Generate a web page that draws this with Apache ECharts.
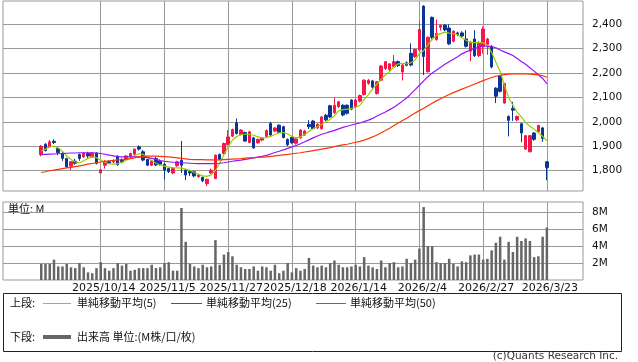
<!DOCTYPE html>
<html><head><meta charset="utf-8">
<script src="https://cdn.jsdelivr.net/npm/echarts@6/dist/echarts.min.js"></script>
<style>html,body{margin:0;padding:0;background:#fff}#c{width:638px;height:362px}</style>
</head><body><div id="c"></div>
<script>
const opens = [1865,1908,1897,1920,1890,1870,1849,1818,1838,1866,
1856,1870,1856,1872,1790,1822,1836,1835,1859,1845,
1845,1858,1867,1897,1877,1845,1822,1849,1838,1826,
1808,1790,1820,1842,1802,1796,1795,1775,1772,1746,
1790,1767,1866,1870,1907,1941,1996,1948,1956,1915,
1934,1914,1925,1940,1993,1962,1986,1980,1927,1936,
1912,1934,1946,1989,2003,1975,1972,2027,2066,2037,
2062,2068,2068,2089,2062,2085,2112,2158,2168,2116,
2171,2219,2215,2226,2247,2205,2242,2281,2268,2295,
2475,2206,2429,2338,2388,2397,2385,2331,2365,2365,
2340,2290,2340,2272,2310,2317,2310,2138,2187,2077,
2022,2055,2008,1992,1888,1877,1954,1959,1975,1836];
const closes = [1900,1882,1918,1915,1874,1850,1815,1836,1830,1850,
1872,1860,1872,1830,1803,1838,1830,1838,1824,1836,
1860,1870,1888,1888,1843,1822,1840,1823,1826,1802,
1796,1808,1836,1822,1782,1790,1778,1782,1758,1764,
1801,1863,1846,1911,1938,1968,1952,1966,1921,1959,
1893,1928,1933,1964,1946,1975,1957,1936,1906,1914,
1930,1966,1962,1980,1972,1990,2020,2008,2020,2068,
2082,2028,2035,2052,2090,2108,2171,2170,2142,2164,
2229,2247,2238,2247,2231,2233,2232,2233,2297,2379,
2268,2347,2347,2363,2396,2377,2320,2372,2358,2352,
2310,2327,2272,2325,2381,2340,2225,2105,2125,2157,
2006,2048,2022,1954,1943,1943,1928,1985,1932,1812];
const lows = [1858,1878,1894,1909,1863,1840,1812,1802,1824,1840,
1852,1852,1852,1825,1788,1808,1826,1830,1820,1830,
1840,1852,1862,1882,1838,1818,1818,1818,1820,1764,
1790,1785,1815,1790,1760,1778,1772,1770,1752,1736,
1786,1765,1842,1866,1903,1938,1948,1944,1918,1912,
1890,1910,1920,1936,1942,1958,1952,1932,1900,1910,
1906,1930,1942,1970,1968,1970,1968,2003,2016,2033,
2057,2023,2030,2048,2058,2080,2108,2152,2135,2112,
2166,2213,2208,2222,2225,2170,2228,2228,2262,2290,
2192,2202,2340,2333,2375,2372,2315,2326,2352,2348,
2305,2248,2266,2266,2280,2275,2220,2077,2120,2075,
1940,2004,2002,1916,1885,1875,1922,1955,1918,1760];
const highs = [1905,1912,1925,1928,1897,1880,1852,1838,1848,1870,
1875,1877,1876,1875,1805,1842,1842,1845,1862,1850,
1862,1873,1890,1903,1884,1848,1843,1856,1845,1830,
1812,1812,1840,1921,1806,1803,1800,1785,1775,1766,
1808,1866,1870,1915,1966,1972,2014,1970,1960,1963,
1938,1931,1937,1968,2000,1978,1990,1984,1932,1940,
1934,1970,1967,2007,2008,1994,2024,2032,2070,2099,
2086,2072,2072,2093,2094,2112,2175,2176,2172,2168,
2233,2250,2240,2274,2252,2238,2248,2322,2300,2411,
2478,2350,2432,2420,2400,2400,2400,2376,2370,2372,
2376,2332,2376,2331,2392,2345,2315,2142,2192,2160,
2026,2082,2026,1996,1946,1946,1958,1988,1978,1838];
const volumes = [1.9,1.9,1.9,2.4,1.6,1.6,1.9,1.5,1.4,2.0,
1.5,0.9,0.8,1.4,2.1,1.4,1.1,1.4,2.0,1.7,
1.9,1.1,1.2,1.4,1.4,1.4,1.8,1.4,1.5,2.0,
2.1,1.1,1.1,8.5,4.5,1.9,1.6,1.4,1.8,1.5,
1.6,4.7,1.8,3.0,3.3,2.8,1.8,1.5,1.3,1.3,
1.6,1.1,1.6,1.5,1.1,1.8,0.8,1.1,2.0,0.9,
1.4,1.1,1.3,2.6,1.7,1.5,1.7,1.5,2.0,2.3,
1.8,1.5,1.5,1.6,1.8,1.6,2.7,1.7,1.5,1.3,
2.3,1.5,2.0,2.1,1.5,1.6,2.5,2.0,2.4,3.7,
8.6,4.0,4.0,2.1,2.0,2.0,2.5,1.9,1.6,2.2,
2.1,2.9,3.0,3.0,2.4,2.5,3.5,4.4,5.1,2.4,
4.5,3.3,5.1,4.6,4.9,4.6,2.7,2.8,5.1,6.2];
const ma5 = [1880,1888,1897,1900,1893,1878,1860,1845,1835,1832,
1840,1850,1856,1853,1842,1834,1828,1826,1828,1833,
1842,1852,1862,1869,1866,1855,1840,1830,1823,1818,
1814,1812,1811,1810,1806,1800,1792,1785,1778,1776,
1782,1800,1830,1865,1898,1925,1940,1947,1950,1948,
1945,1938,1934,1935,1940,1948,1955,1956,1950,1940,
1934,1938,1948,1960,1972,1980,1990,2000,2010,2025,
2045,2050,2052,2055,2060,2068,2092,2112,2135,2155,
2175,2192,2207,2225,2238,2240,2238,2242,2255,2280,
2292,2318,2338,2355,2362,2368,2364,2362,2358,2345,
2335,2326,2325,2325,2324,2315,2285,2245,2207,2150,
2100,2068,2040,2020,1997,1982,1970,1955,1940,1922];
const ma25 = [1865,1866,1867,1868,1869,1870,1871,1872,1872,1873,
1873,1873,1873,1872,1870,1867,1863,1860,1857,1856,
1856,1856,1856,1856,1855,1853,1850,1846,1841,1838,
1836,1834,1833,1832,1831,1830,1829,1828,1828,1828,
1828,1829,1830,1832,1835,1838,1841,1843,1846,1849,
1852,1855,1858,1862,1868,1874,1879,1885,1891,1897,
1903,1910,1918,1926,1934,1942,1949,1954,1960,1965,
1971,1977,1982,1987,1991,1995,2001,2007,2014,2024,
2032,2040,2050,2060,2072,2085,2098,2115,2132,2150,
2168,2185,2200,2212,2224,2236,2247,2257,2267,2279,
2287,2295,2301,2307,2311,2311,2309,2304,2295,2287,
2280,2272,2260,2248,2236,2222,2208,2193,2178,2157];
const ma50 = [1792,1795,1799,1802,1805,1808,1811,1813,1816,1819,
1822,1826,1829,1832,1835,1838,1840,1842,1844,1845,
1847,1849,1852,1856,1858,1859,1859,1859,1858,1857,
1856,1854,1852,1850,1848,1846,1845,1845,1845,1844,
1844,1844,1844,1845,1846,1847,1848,1849,1851,1852,
1853,1854,1855,1856,1858,1860,1862,1864,1866,1869,
1871,1873,1876,1879,1882,1885,1888,1891,1894,1898,
1902,1905,1908,1912,1916,1920,1925,1931,1938,1946,
1955,1964,1974,1985,1995,2005,2015,2026,2036,2046,
2056,2066,2076,2086,2095,2104,2112,2120,2127,2134,
2141,2148,2155,2162,2169,2176,2182,2187,2191,2194,
2196,2197,2197,2197,2197,2196,2195,2193,2189,2183];
const tickIndex = [14,29,44,59,74,89,104,119];
const tickLabels = ['2025/10/14','2025/11/5','2025/11/27','2025/12/18','2026/1/14','2026/2/4','2026/2/27','2026/3/23'];
const priceTicks = [1800,1900,2000,2100,2200,2300,2400];
const volumeTicks = [2,4,6,8];

const UP = '#f5164a', DOWN = '#0a3594', GRIDC = '#999999';
const JP = '"Noto Sans CJK JP", sans-serif';
const NUM = '"DejaVu Sans", sans-serif';

const candleData = opens.map((o, i) => [i, o, closes[i], lows[i], highs[i]]);
const idx = v => v.map((y, i) => [i, y]);

const chart = echarts.init(document.getElementById('c'), null, {renderer: 'canvas'});
const xCommon = {
  type: 'value', min: -9, max: 127.5,
  axisLine: {show: false},
  axisTick: {show: false, customValues: tickIndex},
  splitLine: {show: true, lineStyle: {color: GRIDC, width: 1}}
};
chart.setOption({
  animation: false,
  grid: [
    {left: 3, right: 55, top: 1, height: 190, show: true, borderColor: GRIDC, borderWidth: 1, backgroundColor: 'transparent'},
    {left: 3, right: 55, top: 202, height: 78, show: true, borderColor: GRIDC, borderWidth: 1, backgroundColor: 'transparent'}
  ],
  xAxis: [
    Object.assign({}, xCommon, {gridIndex: 0, axisLabel: {show: false, customValues: tickIndex}}),
    Object.assign({}, xCommon, {gridIndex: 1, axisLabel: {show: true, customValues: tickIndex, margin: 3,
      fontSize: 11, fontFamily: NUM, color: '#111', padding: [0, 0, 0, 6],
      formatter: v => tickLabels[tickIndex.indexOf(Math.round(v))] || ''}})
  ],
  yAxis: [
    {type: 'value', gridIndex: 0, position: 'right', min: 1716, max: 2496,
     axisLine: {show: false}, axisTick: {show: false, customValues: priceTicks},
     axisLabel: {customValues: priceTicks, margin: 9, fontSize: 10.5, fontFamily: NUM, color: '#111',
       formatter: v => v.toLocaleString('en-US')},
     splitLine: {show: true, lineStyle: {color: GRIDC, width: 1}}},
    {type: 'value', gridIndex: 1, position: 'right', min: 0, max: 9.2,
     axisLine: {show: false}, axisTick: {show: false, customValues: volumeTicks},
     axisLabel: {customValues: volumeTicks, margin: 9, fontSize: 10.5, fontFamily: NUM, color: '#111',
       formatter: v => v + 'M'},
     splitLine: {show: true, lineStyle: {color: GRIDC, width: 1}}}
  ],
  series: [
    {type: 'candlestick', xAxisIndex: 0, yAxisIndex: 0,
     dimensions: ['x', 'open', 'close', 'lowest', 'highest'],
     encode: {x: 'x', y: ['open', 'close', 'lowest', 'highest']},
     data: candleData, barWidth: 3,
     itemStyle: {color: UP, color0: DOWN, borderColor: UP, borderColor0: DOWN, borderWidth: 1}},
    {type: 'line', name: '単純移動平均(5)', xAxisIndex: 0, yAxisIndex: 0, data: idx(ma5), showSymbol: false,
     lineStyle: {color: '#99cc00', width: 1.2}, z: 5},
    {type: 'line', name: '単純移動平均(25)', xAxisIndex: 0, yAxisIndex: 0, data: idx(ma25), showSymbol: false,
     lineStyle: {color: '#9911ff', width: 1.2}, z: 5},
    {type: 'line', name: '単純移動平均(50)', xAxisIndex: 0, yAxisIndex: 0, data: idx(ma50), showSymbol: false,
     lineStyle: {color: '#ff3300', width: 1.2}, z: 5},
    {type: 'bar', name: '出来高', xAxisIndex: 1, yAxisIndex: 1, data: idx(volumes), barWidth: 2.5,
     itemStyle: {color: '#666666'}}
  ],
  graphic: [
    {type: 'text', left: 8, top: 203, style: {text: '単位: M', fontSize: 11, fontFamily: JP, fill: '#111'}},
    {type: 'rect', shape: {x: 3.5, y: 293.5, width: 618, height: 58}, style: {fill: 'none', stroke: '#222', lineWidth: 1}},
    {type: 'text', x: 10, y: 303, style: {text: '上段:', fontSize: 11, fontFamily: JP, fill: '#111', verticalAlign: 'middle'}},
    {type: 'line', shape: {x1: 43, y1: 303.5, x2: 71, y2: 303.5}, style: {stroke: '#99cc00', lineWidth: 1}},
    {type: 'text', x: 77, y: 303, style: {text: '単純移動平均(5)', fontSize: 11, fontFamily: JP, fill: '#111', verticalAlign: 'middle'}},
    {type: 'line', shape: {x1: 171, y1: 303.5, x2: 202, y2: 303.5}, style: {stroke: '#9911ff', lineWidth: 1}},
    {type: 'text', x: 206, y: 303, style: {text: '単純移動平均(25)', fontSize: 11, fontFamily: JP, fill: '#111', verticalAlign: 'middle'}},
    {type: 'line', shape: {x1: 316, y1: 303.5, x2: 346, y2: 303.5}, style: {stroke: '#ff3300', lineWidth: 1}},
    {type: 'text', x: 350, y: 303, style: {text: '単純移動平均(50)', fontSize: 11, fontFamily: JP, fill: '#111', verticalAlign: 'middle'}},
    {type: 'text', x: 10, y: 337, style: {text: '下段:', fontSize: 11, fontFamily: JP, fill: '#111', verticalAlign: 'middle'}},
    {type: 'line', shape: {x1: 43, y1: 337, x2: 71, y2: 337}, style: {stroke: '#666666', lineWidth: 4}},
    {type: 'text', x: 77, y: 337, style: {text: '出来高 単位:(M株/口/枚)', fontSize: 11, fontFamily: JP, fill: '#111', verticalAlign: 'middle'}},
    {type: 'text', right: 20, top: 351, style: {text: '(c)Quants Research Inc.', fontSize: 10.5, fontFamily: NUM, fill: '#333'}}
  ]
});
</script></body></html>
